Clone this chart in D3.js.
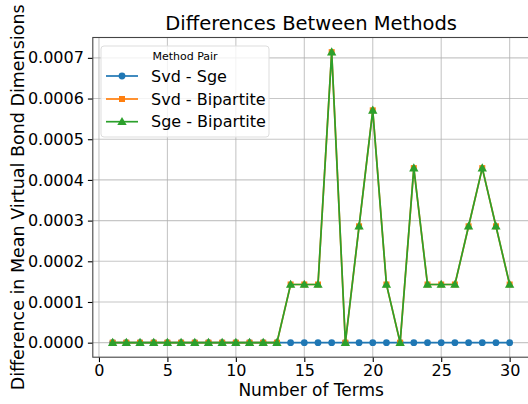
<!DOCTYPE html>
<html><head><meta charset="utf-8">
<script src="https://cdn.jsdelivr.net/npm/d3@7"></script>
<style>body{margin:0;background:#fff}svg{display:block;font-family:"DejaVu Sans",sans-serif}</style>
</head><body>
<svg id="c" width="528" height="404"></svg>
<script>
const terms = d3.range(1, 31);
const svdSge = [0,0,0,0,0,0,0,0,0,0,0,0,0,0,0,0,0,0,0,0,0,0,0,0,0,0,0,0,0,0];
const svdBip = [0,0,0,0,0,0,0,0,0,0,0,0,0,0.000143,0.000143,0.000143,0.000714,0,0.000286,0.000571,0.000143,0,0.000429,0.000143,0.000143,0.000143,0.000286,0.000429,0.000286,0.000143];
const sgeBip = [0,0,0,0,0,0,0,0,0,0,0,0,0,0.000143,0.000143,0.000143,0.000714,0,0.000286,0.000571,0.000143,0,0.000429,0.000143,0.000143,0.000143,0.000286,0.000429,0.000286,0.000143];
const seriesNames = ["Svd - Sge", "Svd - Bipartite", "Sge - Bipartite"];
const colors = ["#1f77b4", "#ff7f0e", "#2ca02c"];
const xTicks = [0,5,10,15,20,25,30];
const yTicks = [0,0.0001,0.0002,0.0003,0.0004,0.0005,0.0006,0.0007];

const svg = d3.select("#c");
const L = 92.8, R = 529.5, T = 37.5, B = 357.2;
const x = d3.scaleLinear().domain([-0.45, 31.45]).range([L, R]);
const y = d3.scaleLinear().domain([-0.0000357, 0.00075]).range([B, T]);

// grid
const g = svg.append("g");
g.selectAll(".gx").data(xTicks).join("line").attr("x1", d=>x(d)).attr("x2", d=>x(d)).attr("y1", T).attr("y2", B).attr("stroke", "#b0b0b0").attr("stroke-width", 1.1).attr("opacity", 0.7);
g.selectAll(".gy").data(yTicks).join("line").attr("y1", d=>y(d)).attr("y2", d=>y(d)).attr("x1", L).attr("x2", R).attr("stroke", "#b0b0b0").attr("stroke-width", 1.1).attr("opacity", 0.7);

// axes
const xa = svg.append("g").attr("transform", `translate(0,${B})`).call(d3.axisBottom(x).tickValues(xTicks).tickSize(4.9).tickPadding(4).tickSizeOuter(0));
const ya = svg.append("g").attr("transform", `translate(${L},0)`).call(d3.axisLeft(y).tickValues(yTicks).tickFormat(d3.format(".4f")).tickSize(4.9).tickPadding(4).tickSizeOuter(0));
[xa, ya].forEach(a => {
  a.select(".domain").remove();
  a.selectAll("line").attr("stroke", "#000").attr("stroke-width", 1.1);
  a.selectAll("text").attr("font-size", 16).attr("fill", "#000").attr("font-family", "DejaVu Sans");
});
xa.selectAll("text").attr("y", 376 - B).attr("dy", 0);

// frame
svg.append("rect").attr("x", L).attr("y", T).attr("width", R - L).attr("height", B - T).attr("fill", "none").attr("stroke", "#444").attr("stroke-width", 1.1);

// series
const all = [svdSge, svdBip, sgeBip];
const line = d3.line().x((d,i)=>x(terms[i])).y(d=>y(d));
const sym = [d3.symbolCircle, d3.symbolSquare, d3.symbolTriangle];
const symSize = [36, 36, 38];
all.forEach((vals, k) => {
  const s = svg.append("g");
  s.append("path").datum(vals).attr("d", line).attr("fill", "none").attr("stroke", colors[k]).attr("stroke-width", 1.7);
  s.selectAll("path.m").data(vals).join("path").attr("class", "m")
    .attr("d", d3.symbol().type(sym[k]).size(symSize[k]))
    .attr("transform", (d,i)=>`translate(${x(terms[i])},${y(d) + (k===2?0.6:0)})`)
    .attr("fill", colors[k]);
});

// title & labels
svg.append("text").attr("x", (L+R)/2).attr("y", 30).attr("text-anchor", "middle").attr("font-size", 19.5).text("Differences Between Methods");
svg.append("text").attr("x", (L+R)/2).attr("y", 396).attr("text-anchor", "middle").attr("font-size", 17).text("Number of Terms");
svg.append("text").attr("transform", `translate(24,${(T+B)/2}) rotate(-90)`).attr("text-anchor", "middle").attr("font-size", 17.5).text("Difference in Mean Virtual Bond Dimensions");

// legend
const lg = svg.append("g");
lg.append("rect").attr("x", 101).attr("y", 46).attr("width", 168).attr("height", 91).attr("rx", 3).attr("fill", "#fff").attr("fill-opacity", 0.8).attr("stroke", "#ddd").attr("stroke-width", 1);
lg.append("text").attr("x", 185).attr("y", 60).attr("text-anchor", "middle").attr("font-size", 11).text("Method Pair");
seriesNames.forEach((n, k) => {
  const yy = [76, 99, 121.7][k];
  lg.append("line").attr("x1", 106).attr("x2", 138).attr("y1", yy).attr("y2", yy).attr("stroke", colors[k]).attr("stroke-width", 1.7);
  lg.append("path").attr("d", d3.symbol().type(sym[k]).size(symSize[k])).attr("transform", `translate(122,${yy + (k===2?0.6:0)})`).attr("fill", colors[k]);
  lg.append("text").attr("x", 151).attr("y", yy).attr("dy", "0.35em").attr("font-size", 16).text(n);
});
</script>
</body></html>
